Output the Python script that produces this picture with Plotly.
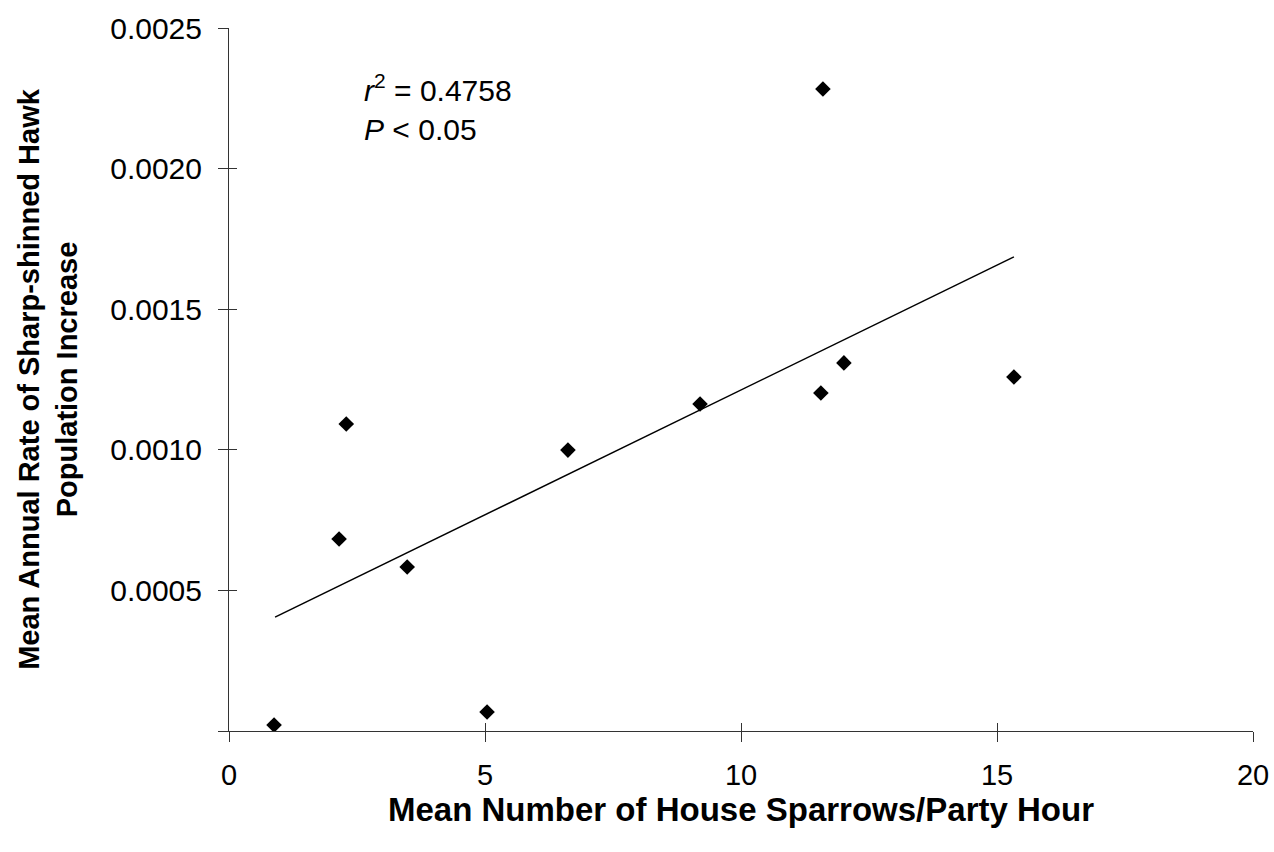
import plotly.graph_objects as go

sparrows = [0.88, 2.15, 2.29, 3.48, 5.04, 6.62, 9.20, 11.56, 11.60, 12.01, 15.33]
hawk_rate = [0.0000213, 0.000683, 0.001092, 0.000583, 0.0000676, 0.000999,
             0.001163, 0.001202, 0.002283, 0.001309, 0.001259]
trend_x = [0.90, 15.33]
trend_y = [0.000405, 0.001686]
x_ticks = [0, 5, 10, 15, 20]
y_ticks = [0, 0.0005, 0.0010, 0.0015, 0.0020, 0.0025]
y_tick_labels = ["", "0.0005", "0.0010", "0.0015", "0.0020", "0.0025"]

FONT = "Liberation Sans, Arial, sans-serif"

fig = go.Figure()
fig.add_trace(go.Scatter(x=trend_x, y=trend_y, mode="lines",
                         line=dict(color="black", width=1.5), showlegend=False,
                         hoverinfo="skip"))
fig.add_trace(go.Scatter(x=sparrows, y=hawk_rate, mode="markers",
                         marker=dict(symbol="diamond", size=12, color="black"),
                         showlegend=False))
# empty trace to activate overlay axes (inside half of crossing ticks)
fig.add_trace(go.Scatter(x=[], y=[], xaxis="x2", yaxis="y2", showlegend=False))

axis_common = dict(showgrid=False, zeroline=False, showline=True,
                   linecolor="#333", linewidth=1, ticks="outside",
                   tickcolor="#333", tickwidth=1, ticklen=10,
                   automargin=False, ticklabeloverflow="allow")

fig.update_layout(
    width=1274, height=852,
    margin=dict(l=229, r=21, t=28, b=121),
    paper_bgcolor="white", plot_bgcolor="white",
    font=dict(family=FONT, color="black"),
    xaxis=dict(range=[0, 20], tickvals=x_ticks, ticktext=[str(v) for v in x_ticks],
               tickfont=dict(size=29, family=FONT), ticklabelstandoff=8,
               title=dict(text="<b>Mean Number of House Sparrows/Party Hour</b>",
                          font=dict(size=33, family=FONT), standoff=6),
               anchor="y", **axis_common),
    yaxis=dict(range=[0, 0.0025], tickvals=y_ticks, ticktext=y_tick_labels,
               tickfont=dict(size=30, family=FONT), ticklabelstandoff=10,
               title=dict(text="<b>Mean Annual Rate of Sharp-shinned Hawk<br>Population Increase</b>",
                          font=dict(size=29, family=FONT), standoff=24),
               anchor="x", **axis_common),
    xaxis2=dict(range=[0, 20], overlaying="x", anchor="y2", tickvals=x_ticks,
                showticklabels=False, showgrid=False, zeroline=False,
                showline=False, ticks="inside", ticklen=8, tickcolor="#333", tickwidth=1,
                side="bottom", automargin=False),
    yaxis2=dict(range=[0, 0.0025], overlaying="y", anchor="x2", tickvals=y_ticks,
                showticklabels=False, showgrid=False, zeroline=False,
                showline=False, ticks="inside", ticklen=8, tickcolor="#333", tickwidth=1,
                side="left", automargin=False),
    annotations=[dict(xref="paper", yref="paper", x=0.13, y=0.945,
                      xanchor="left", yanchor="top", showarrow=False, align="left",
                      text="<i>r</i><sup>2</sup> = 0.4758<br><i>P</i> &lt; 0.05",
                      font=dict(size=30, family=FONT, color="black"))],
)

fig.write_html("out.html", config={"displayModeBar": False},
               post_script="document.body.style.margin='0';document.body.style.overflow='hidden';")
